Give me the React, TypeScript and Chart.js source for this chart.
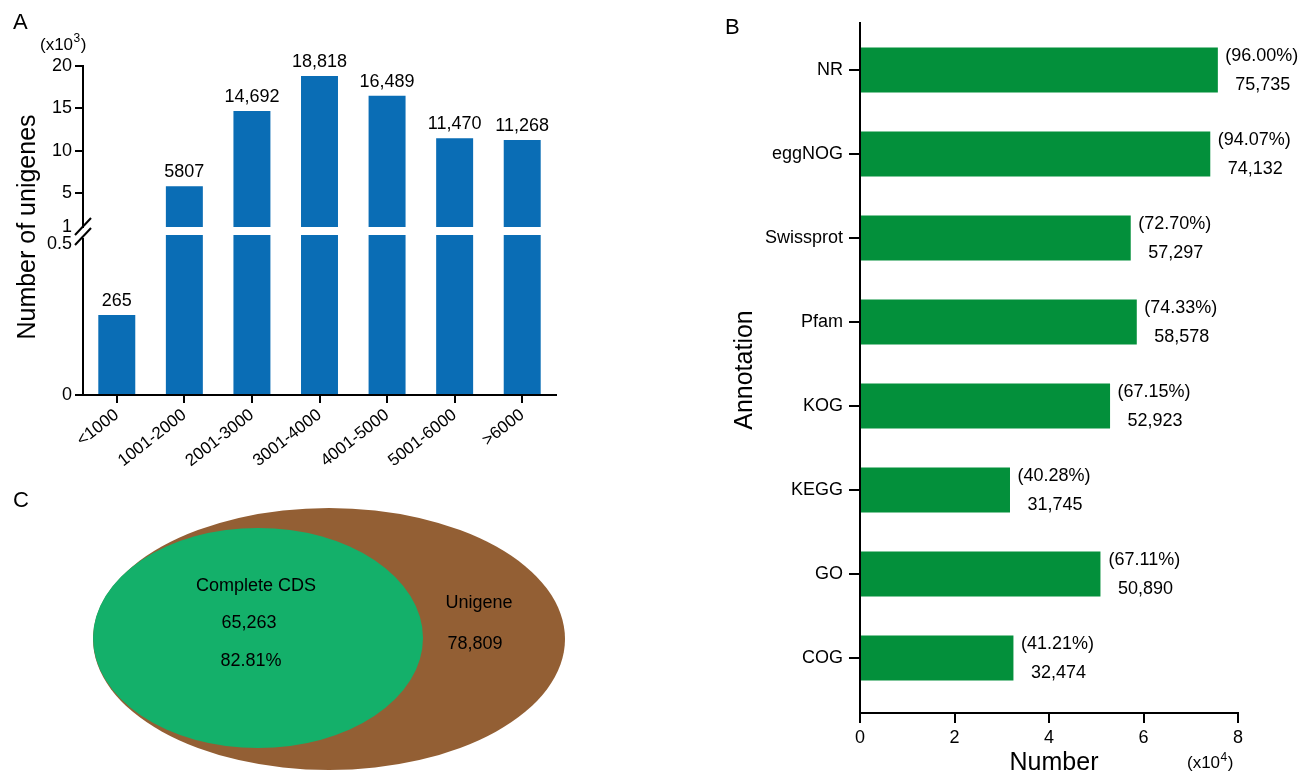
import React, { useEffect, useRef } from 'react';
import { Chart, registerables } from 'chart.js';

Chart.register(...registerables);

const FONT = '"Liberation Sans", Arial, Helvetica, sans-serif';
Chart.defaults.font.family = FONT;
Chart.defaults.color = '#000';

// ---------- Panel A data ----------
const lengthBins = ['<1000', '1001-2000', '2001-3000', '3001-4000', '4001-5000', '5001-6000', '>6000'];
const unigeneCounts = [265, 5807, 14692, 18818, 16489, 11470, 11268];
const upperTicks = [1000, 5000, 10000, 15000, 20000];
const lowerTicks = [0, 500];
const lowerMax = 530;   // top of the lower (broken) axis segment
const upperMin = 1000;  // bottom of the upper axis segment
const upperMax = 20000;

// ---------- Panel B data ----------
const databases = ['NR', 'eggNOG', 'Swissprot', 'Pfam', 'KOG', 'KEGG', 'GO', 'COG'];
const annotatedCounts = [75735, 74132, 57297, 58578, 52923, 31745, 50890, 32474];
const annotatedPercents = [96.0, 94.07, 72.7, 74.33, 67.15, 40.28, 67.11, 41.21];
const numberTicks = [0, 20000, 40000, 60000, 80000];

// ---------- Panel C data ----------
const vennSets = ['Unigene', 'Complete CDS'];
const vennCounts = [78809, 65263];
const vennPercent = 82.81;

const BLUE = '#0A6DB5';
const GREEN_BAR = '#03903B';
const BROWN = '#935F34';
const GREEN_VENN = '#14B06A';

const fmtA = (v: number) => (v >= 10000 ? v.toLocaleString('en-US') : String(v));
const fmt = (v: number) => v.toLocaleString('en-US');

function drawSci(ctx: CanvasRenderingContext2D, x: number, baseline: number, exp: string, size: number, supSize: number) {
  ctx.textAlign = 'left';
  ctx.textBaseline = 'alphabetic';
  ctx.font = `${size}px ${FONT}`;
  ctx.fillText('(x10', x, baseline);
  let w = ctx.measureText('(x10').width;
  ctx.font = `${supSize}px ${FONT}`;
  ctx.fillText(exp, x + w + 0.5, baseline - size * 0.42);
  w += ctx.measureText(exp).width + 1;
  ctx.font = `${size}px ${FONT}`;
  ctx.fillText(')', x + w, baseline);
}

function drawVerticalTitle(ctx: CanvasRenderingContext2D, text: string, baselineX: number, centerY: number, size: number) {
  ctx.save();
  ctx.translate(baselineX, centerY);
  ctx.rotate(-Math.PI / 2);
  ctx.font = `${size}px ${FONT}`;
  ctx.textAlign = 'center';
  ctx.textBaseline = 'alphabetic';
  ctx.fillStyle = '#000';
  ctx.fillText(text, 0, 0);
  ctx.restore();
}

const axisGrid = (tickLength: number, hidden: number[] = []) => ({
  drawOnChartArea: false,
  drawTicks: true,
  tickLength,
  lineWidth: 2,
  offset: false,
  color: (c: any) => (c.tick && hidden.includes(c.tick.value) ? 'rgba(0,0,0,0)' : '#000'),
});
const axisBorder = { display: true, color: '#000', width: 2 };

// ---------------- Panel A ----------------
const panelAPlugin = {
  id: 'panelADecor',
  afterDraw(chart: any) {
    const ctx: CanvasRenderingContext2D = chart.ctx;
    ctx.save();
    ctx.fillStyle = '#000';
    ctx.font = `22px ${FONT}`;
    ctx.textAlign = 'left';
    ctx.textBaseline = 'alphabetic';
    ctx.fillText('A', 13, 29);
    drawSci(ctx, 40, 49.5, '3', 17, 12);
    drawVerticalTitle(ctx, 'Number of unigenes', 35, 227, 25);

    // value labels
    const hi = chart.getDatasetMeta(0);
    const lo = chart.getDatasetMeta(1);
    ctx.font = `18px ${FONT}`;
    ctx.textAlign = 'center';
    ctx.textBaseline = 'alphabetic';
    unigeneCounts.forEach((v, i) => {
      const el = v > upperMin ? hi.data[i] : lo.data[i];
      ctx.fillText(fmtA(v), el.x, el.y - 9);
    });

    // axis break marks
    const yHigh = chart.scales.yHigh;
    const yLow = chart.scales.yLow;
    const ax = chart.chartArea.left;
    const yTop = yHigh.getPixelForValue(upperMin);
    const yBot = yLow.getPixelForValue(lowerMax);
    ctx.fillStyle = '#fff';
    ctx.fillRect(ax - 3, yTop + 1, 6, yBot - yTop + 2);
    ctx.strokeStyle = '#000';
    ctx.lineWidth = 2;
    [yTop, yBot + 2].forEach((yc) => {
      ctx.beginPath();
      ctx.moveTo(ax - 8, yc + 8);
      ctx.lineTo(ax + 8, yc - 9);
      ctx.stroke();
    });
    ctx.restore();
  },
};

function PanelA() {
  const ref = useRef<HTMLCanvasElement>(null);
  useEffect(() => {
    const highVals = unigeneCounts.map((v) => (v > upperMin ? [upperMin, v] : null));
    const lowVals = unigeneCounts.map((v) => Math.min(v, lowerMax));
    const common = { backgroundColor: BLUE, grouped: false, barPercentage: 0.684, categoryPercentage: 0.8, borderWidth: 0 };
    const chart = new Chart(ref.current as HTMLCanvasElement, {
      type: 'bar',
      data: {
        labels: lengthBins,
        datasets: [
          { data: highVals as any, yAxisID: 'yHigh', ...common } as any,
          { data: lowVals, yAxisID: 'yLow', ...common } as any,
        ],
      },
      options: {
        responsive: false,
        animation: false,
        devicePixelRatio: 1,
        layout: { padding: { top: 66, right: 44, bottom: 0, left: 0 } },
        plugins: { legend: { display: false }, tooltip: { enabled: false } },
        scales: {
          x: {
            type: 'category',
            grid: axisGrid(8) as any,
            border: axisBorder,
            ticks: { font: { size: 17 }, color: '#000', minRotation: 38, maxRotation: 38, padding: 2 },
            afterFit: (s: any) => { s.height = 85; },
          },
          yLow: {
            type: 'linear',
            position: 'left',
            stack: 'unigene',
            stackWeight: 160,
            min: 0,
            max: lowerMax,
            afterBuildTicks: (s: any) => { s.ticks = lowerTicks.map((value) => ({ value })); },
            ticks: { font: { size: 18 }, color: '#000', padding: 3, callback: (v: any) => String(Number(v) / 1000) },
            grid: axisGrid(8, [500]) as any,
            border: axisBorder,
            afterFit: (s: any) => { s.width = 83; },
          },
          yHigh: {
            type: 'linear',
            position: 'left',
            stack: 'unigene',
            stackWeight: 169,
            min: upperMin - 8 * ((upperMax - upperMin) / 161),
            max: upperMax,
            afterBuildTicks: (s: any) => { s.ticks = upperTicks.map((value) => ({ value })); },
            ticks: { font: { size: 18 }, color: '#000', padding: 3, callback: (v: any) => String(Number(v) / 1000) },
            grid: axisGrid(8, [upperMin]) as any,
            border: axisBorder,
            afterFit: (s: any) => { s.width = 83; },
          },
        },
      } as any,
      plugins: [panelAPlugin],
    });
    return () => chart.destroy();
  }, []);
  return <canvas ref={ref} width={600} height={480} style={{ display: 'block' }} />;
}

// ---------------- Panel B ----------------
const panelBPlugin = {
  id: 'panelBDecor',
  afterDraw(chart: any) {
    const ctx: CanvasRenderingContext2D = chart.ctx;
    ctx.save();
    ctx.fillStyle = '#000';
    ctx.font = `22px ${FONT}`;
    ctx.textAlign = 'left';
    ctx.textBaseline = 'alphabetic';
    ctx.fillText('B', 25, 34);
    drawVerticalTitle(ctx, 'Annotation', 52, 370, 25);
    ctx.font = `25px ${FONT}`;
    ctx.textAlign = 'center';
    ctx.fillText('Number', 354, 770);
    drawSci(ctx, 487, 768, '4', 17, 12);

    const meta = chart.getDatasetMeta(0);
    ctx.font = `18px ${FONT}`;
    ctx.textAlign = 'center';
    ctx.textBaseline = 'middle';
    meta.data.forEach((el: any, i: number) => {
      ctx.fillText(`(${annotatedPercents[i].toFixed(2)}%)`, el.x + 44, el.y - 14);
      ctx.fillText(fmt(annotatedCounts[i]), el.x + 45, el.y + 15);
    });
    ctx.restore();
  },
};

function PanelB() {
  const ref = useRef<HTMLCanvasElement>(null);
  useEffect(() => {
    const chart = new Chart(ref.current as HTMLCanvasElement, {
      type: 'bar',
      data: {
        datasets: [
          {
            data: annotatedCounts.map((v, i) => ({ x: v, y: i })),
            backgroundColor: GREEN_BAR,
            borderWidth: 0,
            barPercentage: 0.67,
            categoryPercentage: 0.8,
          } as any,
        ],
      },
      options: {
        indexAxis: 'y',
        responsive: false,
        animation: false,
        devicePixelRatio: 1,
        layout: { padding: { top: 23, right: 76, bottom: 0, left: 0 } },
        plugins: { legend: { display: false }, tooltip: { enabled: false } },
        scales: {
          x: {
            type: 'linear',
            min: 0,
            max: 80000,
            afterBuildTicks: (s: any) => { s.ticks = numberTicks.map((value) => ({ value })); },
            ticks: { font: { size: 18 }, color: '#000', padding: 4, callback: (v: any) => String(Number(v) / 10000) },
            grid: axisGrid(10) as any,
            border: axisBorder,
            afterFit: (s: any) => { s.height = 60; },
          },
          y: {
            type: 'linear',
            reverse: true,
            offset: false,
            min: -0.5595,
            max: 7.655,
            afterBuildTicks: (s: any) => { s.ticks = databases.map((_, value) => ({ value })); },
            ticks: { font: { size: 18 }, color: '#000', padding: 6, callback: (v: any) => databases[Number(v)] },
            grid: axisGrid(11) as any,
            border: axisBorder,
            afterFit: (s: any) => { s.width = 160; },
          },
        },
      } as any,
      plugins: [panelBPlugin],
    });
    return () => chart.destroy();
  }, []);
  return <canvas ref={ref} width={614} height={773} style={{ display: 'block' }} />;
}

// ---------------- Panel C ----------------
// Ellipse layout in plot units (x: 0..600, y: 0..293 top-down)
const vennLayout = [
  { cx: 329, cy: 159, rx: 236, ry: 131, color: BROWN },
  { cx: 258, cy: 158, rx: 165, ry: 110, color: GREEN_VENN },
];

const panelCPlugin = {
  id: 'panelCDecor',
  beforeDatasetsDraw(chart: any) {
    const ctx: CanvasRenderingContext2D = chart.ctx;
    const xs = chart.scales.x;
    const ys = chart.scales.y;
    ctx.save();
    chart.data.datasets.forEach((ds: any, di: number) => {
      const meta = chart.getDatasetMeta(di);
      meta.data.forEach((el: any, i: number) => {
        const p = ds.data[i];
        const rx = Math.abs(xs.getPixelForValue(p.x + p.rx) - el.x);
        const ry = Math.abs(ys.getPixelForValue(p.y + p.ry) - el.y);
        ctx.beginPath();
        ctx.ellipse(el.x, el.y, rx, ry, 0, 0, Math.PI * 2);
        ctx.fillStyle = ds.fillColor;
        ctx.fill();
      });
    });
    ctx.restore();
  },
  afterDraw(chart: any) {
    const ctx: CanvasRenderingContext2D = chart.ctx;
    ctx.save();
    ctx.fillStyle = '#000';
    ctx.font = `22px ${FONT}`;
    ctx.textAlign = 'left';
    ctx.textBaseline = 'alphabetic';
    ctx.fillText('C', 13, 27);
    const outer = chart.getDatasetMeta(0).data[0];
    const inner = chart.getDatasetMeta(1).data[0];
    ctx.font = `18px ${FONT}`;
    ctx.textAlign = 'center';
    ctx.textBaseline = 'middle';
    ctx.fillText(vennSets[1], inner.x - 2, inner.y - 52);
    ctx.fillText(fmt(vennCounts[1]), inner.x - 9, inner.y - 15);
    ctx.fillText(`${vennPercent.toFixed(2)}%`, inner.x - 7, inner.y + 23);
    ctx.fillText(vennSets[0], outer.x + 150, outer.y - 36);
    ctx.fillText(fmt(vennCounts[0]), outer.x + 146, outer.y + 5);
    ctx.restore();
  },
};

function PanelC() {
  const ref = useRef<HTMLCanvasElement>(null);
  useEffect(() => {
    const chart = new Chart(ref.current as HTMLCanvasElement, {
      type: 'bubble',
      data: {
        datasets: vennLayout.map((g, i) => ({
          label: vennSets[i],
          data: [{ x: g.cx, y: g.cy, r: 0, rx: g.rx, ry: g.ry }],
          fillColor: g.color,
          backgroundColor: 'rgba(0,0,0,0)',
          borderWidth: 0,
          radius: 0,
        })) as any,
      },
      options: {
        responsive: false,
        animation: false,
        devicePixelRatio: 1,
        layout: { padding: 0 },
        plugins: { legend: { display: false }, tooltip: { enabled: false } },
        scales: {
          x: { type: 'linear', display: false, min: 0, max: 600 },
          y: { type: 'linear', display: false, min: 0, max: 293, reverse: true },
        },
      } as any,
      plugins: [panelCPlugin],
    });
    return () => chart.destroy();
  }, []);
  return <canvas ref={ref} width={600} height={293} style={{ display: 'block' }} />;
}

export default function App() {
  return (
    <div style={{ position: 'absolute', left: 0, top: 0, width: 1314, height: 773, background: '#fff', overflow: 'hidden' }}>
      <div style={{ position: 'absolute', left: 0, top: 0 }}>
        <PanelA />
      </div>
      <div style={{ position: 'absolute', left: 0, top: 480 }}>
        <PanelC />
      </div>
      <div style={{ position: 'absolute', left: 700, top: 0 }}>
        <PanelB />
      </div>
    </div>
  );
}
